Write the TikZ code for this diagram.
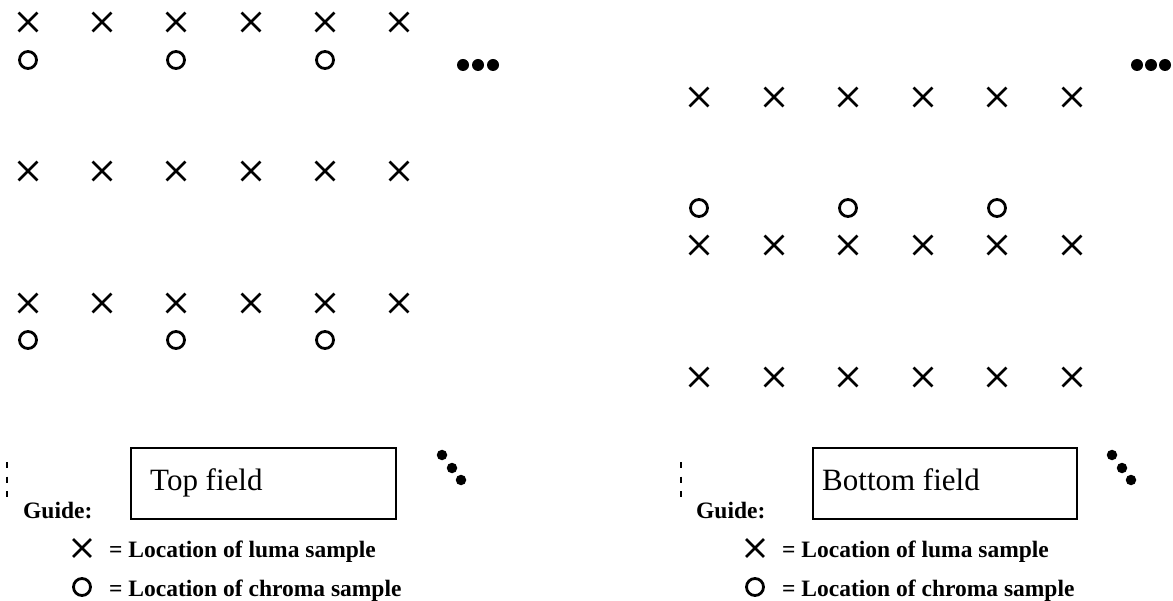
\documentclass[tikz,border=0pt]{standalone}
\usepackage{fontspec}
\setmainfont{Liberation Serif}
\usetikzlibrary{shapes.misc}
\tikzset{
  luma/.style={cross out, draw, line width=2.8pt, minimum size=16pt, inner sep=0pt},
  chroma/.style={circle, draw, line width=2.8pt, minimum size=17pt, inner sep=0pt},
  lumaL/.style={cross out, draw, line width=2.8pt, minimum size=15pt, inner sep=0pt},
  chromaL/.style={circle, draw, line width=2.8pt, minimum size=17pt, inner sep=0pt},
  bigdot/.style={circle, fill, minimum size=12pt, inner sep=0pt},
  diagdot/.style={circle, fill, minimum size=10.5pt, inner sep=0pt},
  fieldbox/.style={draw, line width=1.8pt, anchor=north west, inner sep=0pt},
  fieldtext/.style={anchor=base west, inner sep=0pt, font=\fontsize{31}{36}\selectfont},
  guidetext/.style={anchor=base west, inner sep=0pt, font=\fontsize{23.5}{28}\selectfont\bfseries},
  dashmark/.style={line width=1.8pt, dash pattern=on 6pt off 8.5pt}
}
\begin{document}
\begin{tikzpicture}[x=1pt,y=-1pt]
\path[use as bounding box] (0,0) rectangle (1173,601);
% ---------- Top field (left) ----------
\foreach \i/\x in {1/28,2/102,3/176,4/251,5/325,6/399}{
  \node[luma] (tl1-\i) at (\x,22) {};
  \node[luma] (tl2-\i) at (\x,171) {};
  \node[luma] (tl3-\i) at (\x,303) {};
}
\foreach \i/\x in {1/28,2/176,3/325}{
  \node[chroma] (tc1-\i) at (\x,60) {};
  \node[chroma] (tc3-\i) at (\x,340) {};
}
\node[bigdot] (td1) at (463,65) {};
\node[bigdot] (td2) at (478,65) {};
\node[bigdot] (td3) at (493,65) {};
% ---------- Bottom field (right) ----------
\foreach \i/\x in {1/699,2/774,3/848,4/923,5/997,6/1072}{
  \node[luma] (bl1-\i) at (\x,97) {};
  \node[luma] (bl2-\i) at (\x,245) {};
  \node[luma] (bl3-\i) at (\x,377) {};
}
\foreach \i/\x in {1/699,2/848,3/997}{
  \node[chroma] (bc2-\i) at (\x,208) {};
}
\node[bigdot] (bd1) at (1137,65) {};
\node[bigdot] (bd2) at (1151,65) {};
\node[bigdot] (bd3) at (1165,65) {};
% ---------- Left legend ----------
\coordinate (ldashA) at (7,462);
\coordinate (ldashB) at (7,498);
\draw[dashmark] (ldashA) -- (ldashB);
\node[fieldbox, minimum width=265pt, minimum height=71pt] (topbox) at (130,447) {};
\node[fieldtext] (toptext) at (150,490) {Top field};
\node[diagdot] (tdd1) at (442,455) {};
\node[diagdot] (tdd2) at (452,468) {};
\node[diagdot] (tdd3) at (461,480) {};
\node[guidetext] (tguide) at (23,518) {Guide:};
\node[lumaL] (tlegx) at (82,548) {};
\node[guidetext] (tlegxt) at (109,557) {= Location of luma sample};
\node[chromaL] (tlego) at (82,587) {};
\node[guidetext] (tlegot) at (109,596) {= Location of chroma sample};
% ---------- Right legend ----------
\coordinate (rdashA) at (681,462);
\coordinate (rdashB) at (681,498);
\draw[dashmark] (rdashA) -- (rdashB);
\node[fieldbox, minimum width=264pt, minimum height=71pt] (botbox) at (812,447) {};
\node[fieldtext] (bottext) at (822,490) {Bottom field};
\node[diagdot] (bdd1) at (1112,455) {};
\node[diagdot] (bdd2) at (1122,468) {};
\node[diagdot] (bdd3) at (1131,480) {};
\node[guidetext] (bguide) at (696,518) {Guide:};
\node[lumaL] (blegx) at (755,548) {};
\node[guidetext] (blegxt) at (782,557) {= Location of luma sample};
\node[chromaL] (blego) at (755,587) {};
\node[guidetext] (blegot) at (782,596) {= Location of chroma sample};
\end{tikzpicture}
\end{document}
